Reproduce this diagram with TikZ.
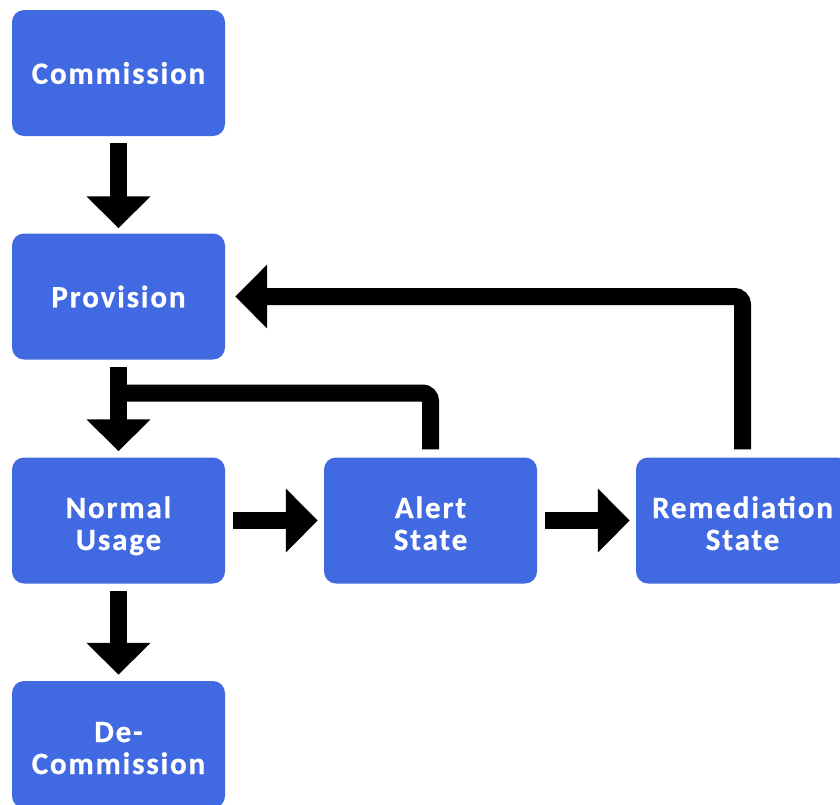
\documentclass[tikz,border=0pt]{standalone}
\usepackage{fontspec}
\usetikzlibrary{arrows.meta}
\newfontfamily\boxfont{Carlito}[LetterSpace=6, BoldFeatures={FakeBold=0.6}]
\definecolor{stateblue}{HTML}{4169E1}
% fixed line extents so every two-line label sits at the same height
\newcommand\toprow{\rule{0pt}{34pt}}
\newcommand\bottomrow{\rule[-7pt]{0pt}{7pt}}
\tikzset{
  state/.style={draw=none, fill=stateblue, rounded corners=12pt,
    minimum width=213pt, minimum height=126pt, inner sep=0pt,
    text=white, align=center,
    font=\boxfont\bfseries\fontsize{31}{32}\selectfont},
  flow/.style={line width=17pt, draw=black, rounded corners=8pt},
  arr/.style={flow, -{Triangle[length=32pt,width=62pt]}}
}
\begin{document}
\begin{tikzpicture}[x=1pt, y=-1pt]
  \useasboundingbox (0,0) rectangle (840,804);
  \begin{scope}
    \clip (0,0) rectangle (840,804);
    % lifecycle states
    \node[state] (comm)   at (118.5,73)    {Commission};
    \node[state] (prov)   at (118.5,296.5) {Provision};
    \node[state] (norm)   at (118.5,520.5) {\toprow Normal\\Usage\bottomrow};
    \node[state, minimum height=127pt] (decomm) at (118.5,744.5) {\toprow De-\\Commission\bottomrow};
    \node[state] (alert)  at (430.5,520.5) {\toprow Alert\\State\bottomrow};
    \node[state] (remed)  at (742.5,520.5) {\toprow Remediation\\State\bottomrow};

    % junction where the alert loop joins the provision arrow
    \coordinate (join) at (118.5,393);

    % transitions
    \draw[arr, shorten <=7pt, shorten >=5pt] (comm) -- (prov);
    \draw[arr, shorten <=7pt, shorten >=6pt] (prov) -- (norm);
    \draw[arr, shorten <=7pt, shorten >=6pt] (norm) -- (decomm);
    \draw[arr, shorten <=8pt, shorten >=6pt] (norm) -- (alert);
    \draw[arr, shorten <=8pt, shorten >=6pt] (alert) -- (remed);
    \draw[flow] ([yshift=8pt]alert.north) |- (join);
    \draw[arr] ([yshift=8pt]remed.north) |- ([xshift=10pt]prov.east);
  \end{scope}
\end{tikzpicture}
\end{document}
